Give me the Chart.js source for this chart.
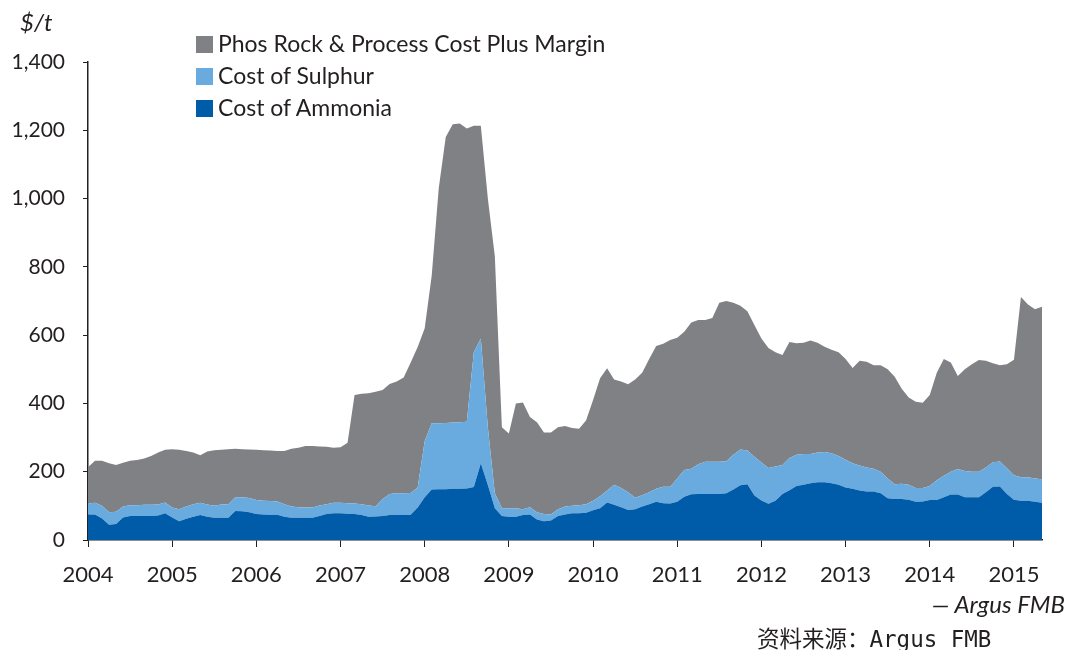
<!DOCTYPE html>
<html>
<head>
<meta charset="utf-8">
<script src="https://cdn.jsdelivr.net/npm/chart.js@4.4.1/dist/chart.umd.min.js"></script>
<style>
    html, body { margin: 0; padding: 0; background: #fff; }
    #wrap { position: relative; width: 1067px; height: 650px; font-family: Lato, "Open Sans", sans-serif; color: #231f20; }
    #chart { position: absolute; left: 0; top: 0; }
    .unit { position: absolute; left: 20px; top: 7px; font-size: 24px; font-style: italic; }
    .legend { position: absolute; left: 196px; top: 28px; font-size: 23px; }
    .legend div { height: 32px; line-height: 30px; white-space: nowrap; }
    .legend span { display: inline-block; width: 17px; height: 17px; margin-right: 5px; vertical-align: -1px; }
    .credit { position: absolute; right: 2px; top: 589px; font-size: 24px; font-style: italic; }
    .source { position: absolute; left: 757px; top: 621px; font-size: 22.5px; font-family: "DejaVu Sans Mono", "Noto Sans CJK SC", monospace; }
</style>
</head>
<body>
<div id="wrap">
    <canvas id="chart" width="1067" height="650"></canvas>
    <div class="unit">$/t</div>
    <div class="legend">
        <div><span style="background:#808184"></span>Phos Rock &amp; Process Cost Plus Margin</div>
        <div><span style="background:#6aabdf"></span>Cost of Sulphur</div>
        <div><span style="background:#005ca9"></span>Cost of Ammonia</div>
    </div>
    <div class="credit">— Argus FMB</div>
    <div class="source">资料来源：Argus FMB</div>
</div>
<script>
// monthly points, Jan 2004 .. May 2015 (decimal years)
const dates = Array.from({ length: 137 }, (_, i) => 2004 + i / 12);

// $/t
const ammonia = [
    75, 75, 63, 45, 47, 66, 70, 70, 70, 70, 72, 78,
    66, 55, 62, 68, 73, 68, 65, 65, 65, 85, 84, 81,
    76, 75, 74, 74, 68, 65, 65, 65, 65, 70, 76, 78,
    78, 77, 76, 73, 68, 69, 70, 73, 73, 73, 74, 95,
    125, 148, 149, 149, 150, 150, 151, 155, 225, 161, 93, 70,
    68, 68, 73, 75, 60, 55, 57, 70, 75, 78, 78, 80,
    87, 93, 110, 103, 96, 88, 90, 98, 105, 112, 108, 107,
    112, 127, 134, 135, 135, 135, 135, 137, 148, 160, 163, 130,
    116, 106, 115, 135, 146, 158, 162, 166, 169, 169, 166, 162,
    154, 150, 145, 142, 142, 137, 122, 120, 120, 118, 112, 113,
    117, 117, 125, 133, 133, 125, 125, 125, 140, 156, 157, 135,
    118, 115, 115, 112, 109
];
const sulphur = [
    32, 34, 37, 36, 36, 32, 32, 32, 33, 33, 32, 32,
    29, 35, 36, 37, 36, 36, 35, 39, 40, 40, 41, 42,
    41, 40, 40, 39, 37, 33, 31, 30, 30, 31, 29, 31,
    31, 31, 31, 32, 33, 30, 50, 62, 64, 64, 64, 59,
    165, 194, 193, 194, 194, 195, 195, 395, 365, 169, 44, 23,
    25, 25, 17, 21, 21, 21, 18, 20, 23, 22, 24, 25,
    28, 35, 35, 59, 56, 52, 34, 33, 35, 38, 48, 49,
    68, 78, 75, 87, 94, 94, 94, 94, 102, 105, 99, 114,
    111, 105, 100, 85, 94, 92, 90, 86, 87, 89, 88, 84,
    81, 75, 73, 70, 67, 63, 58, 43, 45, 44, 40, 39,
    41, 58, 63, 67, 75, 77, 75, 75, 72, 72, 73, 75,
    72, 69, 69, 68, 69
];
const phosRock = [
    106, 123, 132, 144, 137, 128, 130, 132, 136, 143, 152, 154,
    171, 174, 163, 151, 139, 155, 163, 160, 161, 142, 141, 142,
    147, 148, 148, 148, 156, 169, 174, 180, 180, 173, 168, 161,
    163, 177, 318, 323, 329, 335, 319, 322, 327, 339, 382, 411,
    330, 433, 688, 837, 874, 875, 859, 663, 623, 670, 693, 237,
    219, 307, 313, 264, 264, 239, 240, 240, 236, 228, 224, 245,
    295, 346, 358, 308, 312, 316, 346, 359, 390, 418, 419, 430,
    412, 405, 428, 422, 415, 421, 466, 469, 445, 421, 408, 386,
    363, 351, 335, 322, 340, 326, 326, 332, 322, 308, 303, 304,
    295, 279, 307, 310, 303, 312, 320, 315, 278, 255, 253, 250,
    267, 315, 342, 320, 272, 298, 315, 327, 313, 290, 282, 305,
    338, 528, 506, 496, 505
];

const yTicks = [0, 200, 400, 600, 800, 1000, 1200, 1400];
const xYears = [2004, 2005, 2006, 2007, 2008, 2009, 2010, 2011, 2012, 2013, 2014, 2015];

const ink = '#231f20';

const areaDefaults = { pointRadius: 0, borderWidth: 0, tension: 0 };

new Chart(document.getElementById('chart'), {
    type: 'line',
    data: {
        labels: dates,
        datasets: [
            { ...areaDefaults, label: 'Cost of Ammonia', data: ammonia, backgroundColor: '#005ca9', fill: 'origin' },
            { ...areaDefaults, label: 'Cost of Sulphur', data: sulphur, backgroundColor: '#6aabdf', fill: '-1' },
            { ...areaDefaults, label: 'Phos Rock & Process Cost Plus Margin', data: phosRock, backgroundColor: '#808184', fill: '-1' }
        ]
    },
    options: {
        responsive: false,
        animation: false,
        layout: { padding: { left: 0, right: 25, top: 62, bottom: 60 } },
        plugins: { legend: { display: false }, tooltip: { enabled: false } },
        scales: {
            x: {
                type: 'linear',
                min: 2004,
                max: dates[dates.length - 1],
                afterBuildTicks: scale => { scale.ticks = xYears.map(v => ({ value: v })); },
                afterFit: scale => { scale.height = 50; },
                ticks: { callback: v => String(v), font: { family: 'Lato', size: 22 }, color: ink, padding: 15, autoSkip: false, maxRotation: 0, includeBounds: false },
                grid: { drawOnChartArea: false, drawTicks: true, tickLength: 7, color: ink },
                border: { display: true, color: ink, width: 1.5 }
            },
            y: {
                stacked: true,
                min: 0,
                max: 1400,
                afterBuildTicks: scale => { scale.ticks = yTicks.map(v => ({ value: v })); },
                afterFit: scale => { scale.width = 88; },
                ticks: { callback: v => v.toLocaleString('en-US'), font: { family: 'Lato', size: 21 }, color: ink, padding: 18 },
                grid: { drawOnChartArea: false, drawTicks: true, tickLength: 5, color: ink },
                border: { display: true, color: ink, width: 1.5 }
            }
        }
    }
});
</script>
</body>
</html>
